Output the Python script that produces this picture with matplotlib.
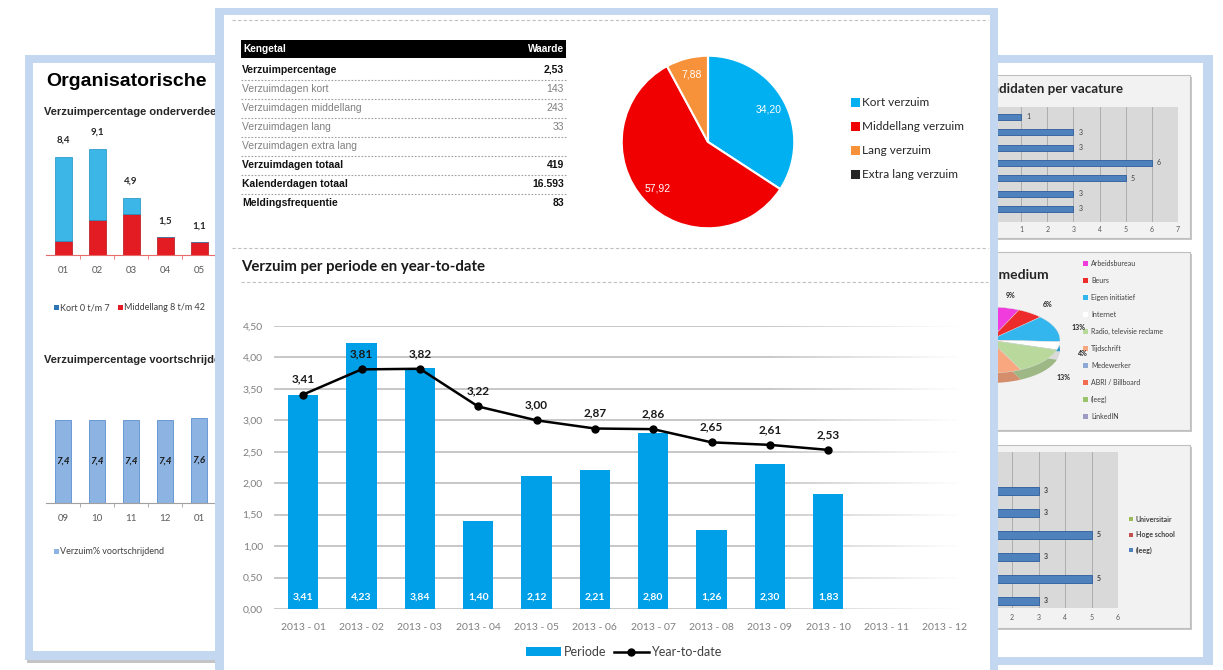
import numpy as np
import matplotlib.pyplot as plt
from matplotlib.patches import Rectangle
from matplotlib.collections import LineCollection
from matplotlib.colors import to_rgb
from matplotlib.ticker import FuncFormatter

W, H = 1223, 670
FA = 'Liberation Sans'
FC = 'Lato'

# ---- data ----
left_cats = ['01', '02', '03', '04', '05']
left_kort = [7.2, 6.1, 1.4, 0.0, 0.0]
left_midden = [1.2, 3.0, 3.5, 1.5, 1.1]
left_totaal = [8.4, 9.1, 4.9, 1.5, 1.1]

roll_cats = ['09', '10', '11', '12', '01']
roll_vals = [7.4, 7.4, 7.4, 7.4, 7.6]

table_rows = ['Verzuimpercentage', 'Verzuimdagen kort', 'Verzuimdagen middellang',
              'Verzuimdagen lang', 'Verzuimdagen extra lang', 'Verzuimdagen totaal',
              'Kalenderdagen totaal', 'Meldingsfrequentie']
table_values = ['2,53', '143', '243', '33', '', '419', '16.593', '83']
table_bold = [True, False, False, False, False, True, True, True]

pie_labels = ['Kort verzuim', 'Middellang verzuim', 'Lang verzuim', 'Extra lang verzuim']
pie_vals = [34.20, 57.92, 7.88, 0.0]
pie_colors = ['#00b0f0', '#f00000', '#f7923a', '#262626']

periods = ['2013 - 01', '2013 - 02', '2013 - 03', '2013 - 04', '2013 - 05', '2013 - 06',
           '2013 - 07', '2013 - 08', '2013 - 09', '2013 - 10', '2013 - 11', '2013 - 12']
periode = [3.41, 4.23, 3.84, 1.40, 2.12, 2.21, 2.80, 1.26, 2.30, 1.83]
ytd = [3.41, 3.81, 3.82, 3.22, 3.00, 2.87, 2.86, 2.65, 2.61, 2.53]

vac_vals = [1, 3, 3, 6, 5, 3, 3]

medium_labels = ['Arbeidsbureau', 'Beurs', 'Eigen initiatief', 'Internet',
                 'Radio, televisie reclame', 'Tijdschrift', 'Medewerker',
                 'ABRI / Billboard', '(leeg)', 'LinkedIN']
medium_vals = [9, 6, 13, 4, 13, 8, 10, 7, 25, 5]
medium_colors = ['#f03cdc', '#ee2b2b', '#33b5ee', '#ffffff', '#b9d99c', '#f9a77f',
                 '#8fa9d6', '#f26d4f', '#9bc36b', '#9d9bc2']

opl_vals = [3, 3, 5, 3, 5, 3]
opl_legend = ['Universitair', 'Hoge school', '(leeg)']
opl_colors = ['#9bbb59', '#c0504d', '#4f81bd']

FRAME = '#c3d7f0'


def fmt(v, d=2):
    return f'{v:.{d}f}'.replace('.', ',')


fig = plt.figure(figsize=(W / 100, H / 100), dpi=100)


def px_axes(x0, y0, x1, y1, z):
    return fig.add_axes([x0 / W, 1 - y1 / H, (x1 - x0) / W, (y1 - y0) / H], zorder=z)


def layer(z):
    ax = px_axes(0, 0, W, H, z)
    ax.set_xlim(0, W)
    ax.set_ylim(H, 0)
    ax.axis('off')
    return ax


def rect(ax, x0, y0, x1, y1, **kw):
    ax.add_patch(Rectangle((x0, y0), x1 - x0, y1 - y0, **kw))


# ---- background: side panels ----
bg = layer(0)
rect(bg, 27, 57, 232, 663, color='#c4c4c4', lw=0)
rect(bg, 25, 55, 232, 660, color=FRAME, lw=0)
rect(bg, 33, 63, 232, 651, color='white', lw=0)
rect(bg, 980, 55, 1213, 665, color=FRAME, lw=0)
rect(bg, 990, 63, 1203, 657, color='white', lw=0)
for (y0, y1) in [(75, 238), (252, 430), (445, 628)]:
    rect(bg, 987, y0 + 2, 1192, y1 + 2, color='#c8c8c8', lw=0)
    rect(bg, 985, y0, 1190, y1, facecolor='#f2f2f2', edgecolor='#bfbfbf', lw=0.8)

bg.text(46, 82, 'Organisatorische', fontsize=14, fontweight='bold', family=FA, va='center')
bg.text(44, 112, 'Verzuimpercentage onderverdeeld', fontsize=8, fontweight='bold', family=FA,
        va='center', color='#262626')
bg.text(44, 360, 'Verzuimpercentage voortschrijdend', fontsize=8, fontweight='bold', family=FA,
        va='center', color='#262626')
rect(bg, 54, 305, 59, 310, color='#2e75b6', lw=0)
bg.text(60, 308, 'Kort 0 t/m 7', fontsize=6.5, family=FC, va='center', color='#404040')
rect(bg, 118, 305, 123, 310, color='#e31b23', lw=0)
bg.text(124, 308, 'Middellang 8 t/m 42', fontsize=6.5, family=FC, va='center', color='#404040')
rect(bg, 54, 549, 59, 554, color='#8db3e2', lw=0)
bg.text(60, 552, 'Verzuim% voortschrijdend', fontsize=6.5, family=FC, va='center', color='#404040')

bg.text(1123, 89, 'Aantal kandidaten per vacature', fontsize=9.6, fontweight='bold', family=FC,
        ha='right', va='center', color='#262626')
bg.text(1050, 275, 'Wervingsmedium', fontsize=10, fontweight='bold', family=FC,
        ha='right', va='center', color='#262626')
for i, (lab, c) in enumerate(zip(medium_labels, medium_colors)):
    y = 263 + 17.1 * i
    rect(bg, 1083, y - 2.5, 1088, y + 2.5, color=c, lw=0)
    bg.text(1091, y, lab, fontsize=5, family=FC, va='center', color='#404040')
for i, (lab, c) in enumerate(zip(opl_legend, opl_colors)):
    y = 519 + 15.5 * i
    rect(bg, 1129, y - 2, 1133, y + 2, color=c, lw=0)
    bg.text(1136, y, lab, fontsize=5, family=FC, va='center', color='#404040', fontweight='bold')

# ---- left chart 1: stacked bars ----
a1 = px_axes(46, 120, 250, 255, 1)
xl = np.arange(len(left_cats))
a1.bar(xl, left_midden, width=0.5, color='#e31b23', edgecolor='#b5121b', lw=0.5)
a1.bar(xl, left_kort, bottom=left_midden, width=0.5, color='#3cb6e6', edgecolor='#1e8fc0', lw=0.5)
for xi, v in zip(xl, left_totaal):
    a1.text(xi, v + 1.0, fmt(v, 1), ha='center', va='bottom', fontsize=7, fontweight='bold',
            family=FC, color='#262626')
a1.set_xlim(-0.5, 5.5)
a1.set_ylim(0, 135 / 11.7)
a1.set_facecolor('none')
for s in ['top', 'right', 'left']:
    a1.spines[s].set_visible(False)
a1.spines['bottom'].set_color('#e86b6b')
a1.set_yticks([])
a1.set_xticks(xl)
a1.set_xticklabels(left_cats, fontsize=7, family=FC, color='#595959')
a1.set_xticks(xl[:-1] + 0.5, minor=True)
a1.tick_params(axis='x', which='major', length=0, pad=8)
a1.tick_params(axis='x', which='minor', length=3, color='#e86b6b')

# ---- left chart 2: rolling ----
a2 = px_axes(46, 400, 250, 503, 1)
xr = np.arange(len(roll_cats))
a2.bar(xr, roll_vals, width=0.45, color='#8db3e2', edgecolor='#5b8fd0', lw=0.6)
for xi, v in zip(xr, roll_vals):
    a2.text(xi, v / 2, fmt(v, 1), ha='center', va='center', fontsize=7, fontweight='bold',
            style='italic', family=FC, color='#1a1a1a')
a2.set_xlim(-0.5, 5.5)
a2.set_ylim(0, 103 / 11.2)
a2.set_facecolor('none')
for s in ['top', 'right', 'left']:
    a2.spines[s].set_visible(False)
a2.spines['bottom'].set_color('#a0a0a0')
a2.set_yticks([])
a2.set_xticks(xr)
a2.set_xticklabels(roll_cats, fontsize=7, family=FC, color='#595959')
a2.set_xticks(xr[:-1] + 0.5, minor=True)
a2.tick_params(axis='x', which='major', length=0, pad=8)
a2.tick_params(axis='x', which='minor', length=3, color='#a0a0a0')

# ---- right chart 1: kandidaten per vacature ----
r1 = px_axes(995, 107, 1178, 222, 1)
yv = np.arange(len(vac_vals))
r1.barh(yv, vac_vals, height=0.4, color='#4f81bd', edgecolor='#2c5d9a', lw=0.6, zorder=3)
for yi, v in zip(yv, vac_vals):
    r1.text(v + 0.2, yi, str(v), fontsize=5, family=FC, va='center', color='#404040')
r1.set_xlim(0, 7)
r1.set_ylim(6.85, -0.65)
r1.set_facecolor('#d9d9d9')
r1.set_xticks(range(1, 8))
r1.set_xticklabels([str(i) for i in range(1, 8)], fontsize=5, family=FC, color='#595959')
r1.set_yticks([])
r1.grid(axis='x', color='#a6a6a6', lw=0.6, zorder=0)
r1.tick_params(length=0, pad=3)
for s in r1.spines.values():
    s.set_visible(False)

# ---- right chart 2: wervingsmedium pie (tilted) ----
r2 = px_axes(920, 307, 1060, 383, 1)
dark = [tuple(np.array(to_rgb(c)) * 0.85) for c in medium_colors]
r2.pie(medium_vals, colors=dark, startangle=98, counterclock=False, center=(0, -0.3),
       wedgeprops=dict(lw=0))
wedges, _ = r2.pie(medium_vals, colors=medium_colors, startangle=98, counterclock=False,
                   wedgeprops=dict(lw=0.3, edgecolor='#e0e0e0'))
for w, v in zip(wedges[:5], medium_vals[:5]):
    ang = np.deg2rad((w.theta1 + w.theta2) / 2)
    r2.text(1.22 * np.cos(ang) + 0.12, 1.5 * np.sin(ang) - 0.15, f'{v}%', fontsize=5,
            fontweight='bold', family=FC, ha='center', va='center', color='#262626')
r2.set_aspect('auto')
r2.set_xlim(-1, 1)
r2.set_ylim(-1.3, 1)
r2.axis('off')

# ---- right chart 3: opleiding ----
r3 = px_axes(959, 452, 1118, 608, 1)
yo = np.arange(len(opl_vals))
r3.barh(yo, opl_vals, height=0.33, color='#4f81bd', edgecolor='#2c5d9a', lw=0.6, zorder=3)
for yi, v in zip(yo, opl_vals):
    r3.text(v + 0.2, yi, str(v), fontsize=5, family=FC, va='center', color='#404040',
            fontweight='bold')
r3.set_xlim(0, 6)
r3.set_ylim(5.32, -1.77)
r3.set_facecolor('#d9d9d9')
r3.set_xticks(range(1, 7))
r3.set_xticklabels([str(i) for i in range(1, 7)], fontsize=5, family=FC, color='#595959')
r3.set_yticks([])
r3.grid(axis='x', color='#a6a6a6', lw=0.6, zorder=0)
r3.tick_params(length=0, pad=4)
for s in r3.spines.values():
    s.set_visible(False)

# ---- main panel ----
mp = layer(5)
rect(mp, 215, 8, 998, 680, color=FRAME, lw=0)
rect(mp, 224, 15, 990, 680, color='white', lw=0)
for y, x0 in [(20, 232), (248, 232), (282, 241)]:
    mp.plot([x0, 988], [y, y], color='#c0c0c0', lw=0.8, ls=(0, (3, 2)))

# table
rect(mp, 241, 40, 566, 58, color='black', lw=0)
mp.text(243, 49.5, 'Kengetal', color='white', fontsize=7.3, fontweight='bold', family=FA, va='center')
mp.text(564, 49.5, 'Waarde', color='white', fontsize=7.3, fontweight='bold', family=FA,
        va='center', ha='right')
for i, (lab, val, b) in enumerate(zip(table_rows, table_values, table_bold)):
    y = 70 + 19 * i
    col = '#111111' if b else '#808080'
    fw = 'bold' if b else 'normal'
    mp.text(242, y, lab, color=col, fontsize=7.5, fontweight=fw, family=FA, va='center')
    mp.text(564, y, val, color=col, fontsize=7.5, fontweight=fw, family=FA, va='center', ha='right')
    if i < len(table_rows) - 1:
        mp.plot([241, 566], [y + 9.5, y + 9.5], color='#a0a0a0', lw=0.8, ls=(0, (1.5, 1.5)))

# pie legend
for i, (lab, c) in enumerate(zip(pie_labels, pie_colors)):
    y = 102 + 24 * i
    rect(mp, 851, y - 4.5, 860, y + 4.5, color=c, lw=0)
    mp.text(862, y, lab, fontsize=8.5, family=FC, va='center', color='#262626')

mp.text(241, 267, 'Verzuim per periode en year-to-date', fontsize=10.8, fontweight='bold',
        family=FC, va='center', color='#1a1a1a')

# pie
pa = px_axes(620, 54, 796, 230, 6)
pw, _ = pa.pie(pie_vals, colors=pie_colors, startangle=90, counterclock=False,
               wedgeprops=dict(edgecolor='white', lw=1.5))
for w, v in zip(pw[:3], pie_vals[:3]):
    ang = np.deg2rad((w.theta1 + w.theta2) / 2)
    if v > 10:
        px, py = 0.8 * np.cos(ang), 0.8 * np.sin(ang)
    else:
        px, py = 0.78 * np.cos(ang), 0.78
    pa.text(px, py, fmt(v), color='white', fontsize=7.5, family=FA, ha='center', va='center')
pa.set_xlim(-1.02, 1.02)
pa.set_ylim(-1.02, 1.02)

# main bar + line chart
ax = px_axes(274, 326, 974, 609, 6)
x = np.arange(len(periods))
bars = ax.bar(x[:len(periode)], periode, width=0.52, color='#00a0e9', label='Periode', zorder=3)
for xi, v in zip(x, periode):
    ax.text(xi, 0.19, fmt(v), color='white', fontsize=7.5, fontweight='bold', family=FC,
            ha='center', va='center', zorder=4)
line, = ax.plot(x[:len(ytd)], ytd, color='black', lw=1.8, marker='o', ms=5, label='Year-to-date',
                zorder=5)
for xi, v in zip(x, ytd):
    ax.annotate(fmt(v), (xi, v), xytext=(0, 11), textcoords='offset points', ha='center',
                va='center', fontsize=8.5, fontweight='bold', family=FC, color='#1a1a1a', zorder=6)

# fading gridlines
xs = np.linspace(-0.5, 11.5, 81)
segs, cols = [], []
for g in np.arange(0, 4.51, 0.5):
    for a, b in zip(xs[:-1], xs[1:]):
        t = ((a + b) / 2 + 0.5) / 12
        alpha = 1.0 if t < 0.7 else max(0.0, 1 - (t - 0.7) / 0.28)
        segs.append([(a, g), (b, g)])
        cols.append((0.72, 0.72, 0.72, alpha))
ax.add_collection(LineCollection(segs, colors=cols, lw=1.1, zorder=1))

ax.set_xlim(-0.5, 11.5)
ax.set_ylim(0, 4.5)
ax.set_yticks(np.arange(0, 4.51, 0.5))
ax.yaxis.set_major_formatter(FuncFormatter(lambda v, p: fmt(v)))
ax.set_xticks(x)
ax.set_xticklabels(periods)
for s in ax.spines.values():
    s.set_visible(False)
ax.tick_params(length=0, labelsize=7.5, labelcolor='#7f7f7f')
ax.tick_params(axis='x', pad=10)
ax.tick_params(axis='y', pad=8)
for t in ax.get_xticklabels() + ax.get_yticklabels():
    t.set_family(FC)
ax.set_facecolor('none')
leg = ax.legend([bars, line], ['Periode', 'Year-to-date'], loc='center',
                bbox_to_anchor=(0.5, -(652 - 609) / 283), ncol=2, frameon=False,
                prop=dict(family=FC, size=9), handlelength=2.8, handleheight=0.7,
                columnspacing=0.6, handletextpad=0.2)
for t in leg.get_texts():
    t.set_color('#404040')

fig.savefig('out.png', dpi=100)
